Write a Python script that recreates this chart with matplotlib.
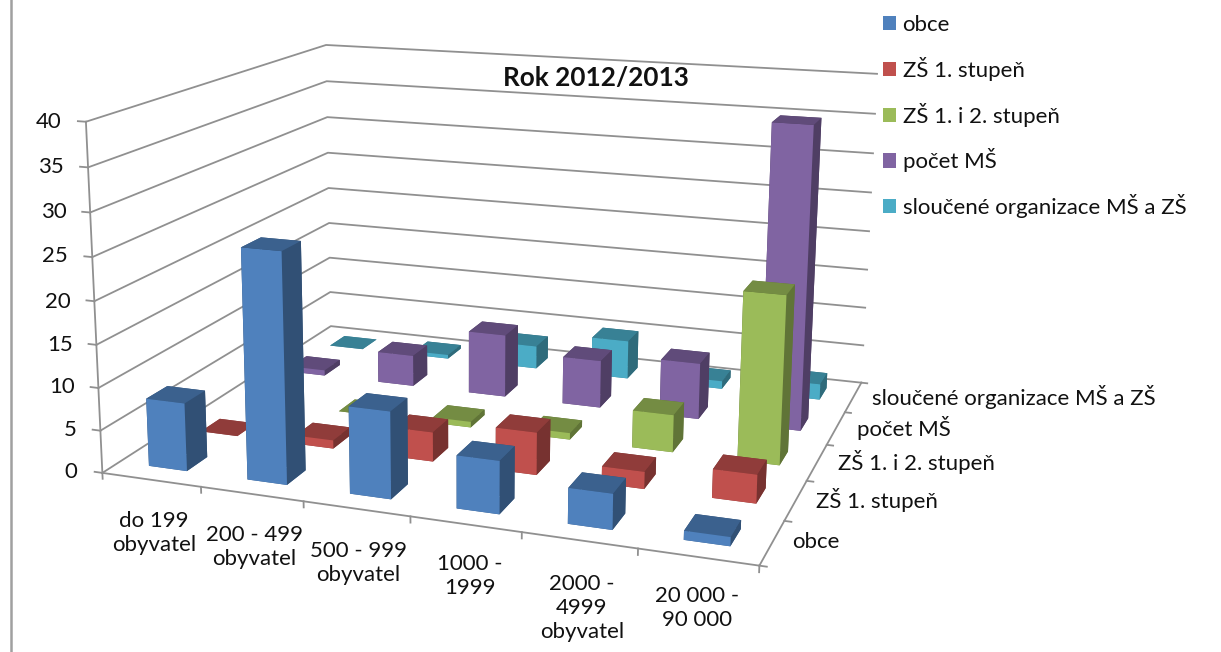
import numpy as np
import matplotlib
matplotlib.use('Agg')
import matplotlib.pyplot as plt
from matplotlib.colors import to_rgb
from matplotlib.lines import Line2D
from matplotlib.patches import Patch

plt.rcParams['font.family'] = ['Lato', 'DejaVu Sans']

# Chart data
categories = ['do 199\nobyvatel', '200 - 499\nobyvatel', '500 - 999\nobyvatel',
              '1000 -\n1999', '2000 -\n4999\nobyvatel', '20 000 -\n90 000']
series = ['obce', 'ZŠ 1. stupeň', 'ZŠ 1. i 2. stupeň', 'počet MŠ',
          'sloučené organizace MŠ a ZŠ']
obce = [8, 26.6, 10, 6, 4, 1]
zs1 = [0, 1, 3.5, 5, 2, 3.3]
zs12 = [0, 0, 0.7, 0.8, 4.5, 20]
pocet_ms = [0.7, 4, 8, 6, 7, 37]
sloucene = [0, 0.5, 3, 5, 1, 2]
values = [obce, zs1, zs12, pocet_ms, sloucene]
value_ticks = [0, 5, 10, 15, 20, 25, 30, 35, 40]
colors = ['#4F81BD', '#C0504D', '#9BBB59', '#8064A2', '#4BACC6']

W, H = 1221, 652
FS = 16
GRID = '#909090'
BAR_W = 0.39
BAR_GAP = (1 - BAR_W) / 2


def put(x, y, s, **kw):
    # text placed in picture pixels, y counted from the top
    fig.text(x / W, 1 - y / H, s, va='center', **kw)


fig = plt.figure(figsize=(W / 100, H / 100), dpi=100)
# view worked out from the corners of the reference's walls and floor
ax = fig.add_axes([307.93 / W, 269.40 / H, 278.23 / W, 278.23 / H], projection='3d')
ax.set_axis_off()
ax.computed_zorder = False
ax.view_init(elev=13.7205, azim=-69.2993, roll=0.1003)
ax.set_proj_type('persp', focal_length=float(np.exp(0.2572)))
ax.set_xlim(0.3184, 2.3264)
ax.set_ylim(4.3770, 6.3657)
ax.set_zlim(3.5651, 22.2690)

# Walls and floor edges
for z in value_ticks:
    ax.plot([0, 0, 6], [0, 5, 5], [z, z, z], color=GRID, lw=1.3, zorder=1)
    ax.plot([-0.08, 0], [0, 0], [z, z], color=GRID, lw=1.3, zorder=1)
ax.plot([0, 0], [0, 0], [0, 40], color=GRID, lw=1.3, zorder=1)
ax.plot([0, 6, 6], [0, 0, 5], [0, 0, 0], color=GRID, lw=1.3, zorder=1)
for ix in range(7):
    ax.plot([ix, ix], [0, 0], [0, -0.7], color=GRID, lw=1.3, zorder=1)
for iy in range(6):
    ax.plot([6, 6.06], [iy, iy], [0, 0], color=GRID, lw=1.3, zorder=1)

# Bars from the back row to the front, left to right
order = 10
for iy in range(4, -1, -1):
    for ix in range(6):
        c = np.array(to_rgb(colors[iy]))
        top, right = c * 0.75, c * 0.62
        fc = [top, top, c, right, right, right]
        ax.bar3d(ix + BAR_GAP, iy + BAR_GAP, 0, BAR_W, BAR_W, values[iy][ix], color=fc,
                 shade=False, zorder=order, edgecolor='none')
        order += 1

for artist in ax.get_children():
    artist.set_clip_on(False)

# Value labels
value_right = [77, 77, 75, 73, 71, 68, 67, 64, 62]
value_y = [472, 430, 387, 345, 302, 256, 212, 167, 122]
for v, xr, yy in zip(value_ticks, value_right, value_y):
    put(xr, yy, str(v), ha='right', fontsize=FS, color='#111111')

# Category labels
cat_x = [154, 254, 358, 470, 582, 697]
cat_y = [533, 547, 563, 576, 608, 608]
for s, xc, yy in zip(categories, cat_x, cat_y):
    put(xc, yy, s, ha='center', fontsize=FS, color='#111111', linespacing=1.25)

# Series labels along the depth axis
depth_x = [792, 816, 838, 857, 872]
depth_y = [542, 500, 462, 428, 397]
for s, xl, yy in zip(series, depth_x, depth_y):
    put(xl, yy, s, ha='left', fontsize=FS, color='#111111')

put(503, 78, 'Rok 2012/2013', ha='left', fontsize=18.8, fontweight='bold', color='#111111')

handles = [Patch(facecolor=c, edgecolor='none') for c in colors]
fig.legend(handles, series, loc='upper left', bbox_to_anchor=(883 / W, 1 - 15 / H),
           frameon=False, fontsize=FS, borderpad=0, borderaxespad=0, labelspacing=0.98,
           handlelength=0.6, handleheight=0.6, handletextpad=0.28, labelcolor='#111111')

fig.add_artist(Line2D([11 / W, 11 / W], [0, 1], color='#A0A0A0', lw=1.8))

fig.savefig('out.png', dpi=100)
